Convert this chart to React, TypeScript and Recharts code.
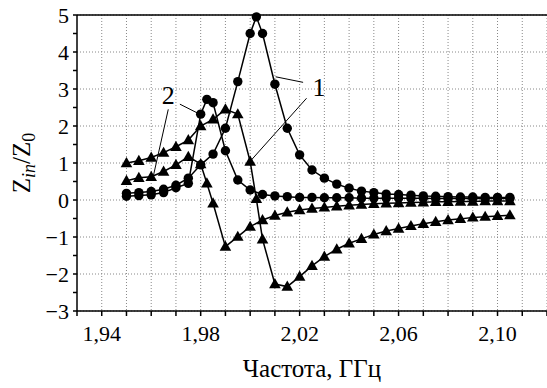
import { LineChart, Line, XAxis, YAxis, CartesianGrid, ReferenceLine, ReferenceDot } from "recharts";

// curve 1 (resonance near 2.0025 GHz)
const freq1 = [1.95, 1.955, 1.96, 1.965, 1.97, 1.975, 1.98, 1.985, 1.99, 1.995, 2.0, 2.0025, 2.005, 2.01, 2.015, 2.02, 2.025, 2.03, 2.035, 2.04, 2.045, 2.05, 2.055, 2.06, 2.065, 2.07, 2.075, 2.08, 2.085, 2.09, 2.095, 2.1, 2.105];
const re1 = [0.18, 0.2, 0.23, 0.29, 0.4, 0.59, 0.95, 1.24, 1.94, 3.2, 4.5, 4.95, 4.5, 3.13, 1.94, 1.22, 0.81, 0.59, 0.43, 0.32, 0.24, 0.2, 0.16, 0.15, 0.13, 0.11, 0.1, 0.09, 0.08, 0.08, 0.07, 0.07, 0.07];
const im1 = [1.0, 1.06, 1.15, 1.28, 1.44, 1.62, 2.0, 2.18, 2.45, 2.32, 1.04, 0.03, -1.06, -2.27, -2.34, -2.07, -1.78, -1.53, -1.33, -1.17, -1.05, -0.93, -0.84, -0.77, -0.7, -0.64, -0.59, -0.54, -0.51, -0.47, -0.45, -0.43, -0.41];

// curve 2 (resonance near 1.9825 GHz)
const freq2 = [1.95, 1.955, 1.96, 1.965, 1.97, 1.975, 1.98, 1.9825, 1.985, 1.99, 1.995, 2.0, 2.005, 2.01, 2.015, 2.02, 2.025, 2.03, 2.035, 2.04, 2.045, 2.05, 2.055, 2.06, 2.065, 2.07, 2.075, 2.08, 2.085, 2.09, 2.095, 2.1, 2.105];
const re2 = [0.1, 0.12, 0.14, 0.2, 0.33, 0.45, 2.32, 2.72, 2.63, 1.33, 0.54, 0.27, 0.15, 0.11, 0.09, 0.07, 0.07, 0.06, 0.06, 0.06, 0.05, 0.05, 0.05, 0.05, 0.05, 0.05, 0.04, 0.04, 0.04, 0.04, 0.04, 0.04, 0.04];
const im2 = [0.52, 0.6, 0.63, 0.77, 0.95, 1.17, 0.97, 0.45, -0.09, -1.26, -0.99, -0.72, -0.54, -0.42, -0.33, -0.27, -0.23, -0.2, -0.17, -0.14, -0.12, -0.1, -0.09, -0.08, -0.07, -0.06, -0.05, -0.05, -0.04, -0.04, -0.03, -0.03, -0.03];

const xTicks = [1.93, 1.94, 1.95, 1.96, 1.97, 1.98, 1.99, 2.0, 2.01, 2.02, 2.03, 2.04, 2.05, 2.06, 2.07, 2.08, 2.09, 2.1, 2.11, 2.12];
const xLabelTicks = ["1,94", "1,98", "2,02", "2,06", "2,10"];
const yTicks = [-3, -2.5, -2, -1.5, -1, -0.5, 0, 0.5, 1, 1.5, 2, 2.5, 3, 3.5, 4, 4.5, 5];
const yGrid = [-3, -2, -1, 0, 1, 2, 3, 4, 5];

const toRows = (fs: number[], vs: number[]) => fs.map((f, i) => ({ f, v: vs[i] }));

const FONT = "'Liberation Serif', 'Times New Roman', 'DejaVu Serif', serif";

const fmtX = (v: number) => {
  const s = v.toFixed(2).replace(".", ",");
  return xLabelTicks.includes(s) ? s : "";
};
const fmtY = (v: number) => (Number.isInteger(v) ? (v < 0 ? "\u2212" + Math.abs(v) : String(v)) : "");

const Circle = (props: any) => {
  const { cx, cy, index } = props;
  if (cx == null || cy == null) return null;
  return <circle key={"c" + index} cx={cx} cy={cy} r={4.7} fill="#000" />;
};

const Triangle = (props: any) => {
  const { cx, cy, index } = props;
  if (cx == null || cy == null) return null;
  return <path key={"t" + index} d={`M${cx},${cy - 6}L${cx + 5.8},${cy + 4.2}L${cx - 5.8},${cy + 4.2}Z`} fill="#000" />;
};

export default function App() {
  return (
    <div style={{ position: "absolute", left: 0, top: 0, width: 547, height: 388, background: "#fff", fontFamily: FONT }}>
      <LineChart width={547} height={388} margin={{ top: 15, right: 0, left: 0, bottom: 0 }} style={{ fontFamily: FONT }}>
        <CartesianGrid
          stroke="#888"
          strokeDasharray="1 2"
          horizontalValues={yGrid}
          verticalValues={xTicks.slice(1)}
        />
        <XAxis
          dataKey="f"
          type="number"
          domain={[1.93, 2.12]}
          ticks={xTicks}
          interval={0}
          tickFormatter={fmtX}
          height={77}
          tickSize={5}
          tickMargin={9}
          stroke="#000"
          strokeWidth={1.5}
          tick={{ fill: "#000", fontSize: 22, fontFamily: FONT }}
        />
        <YAxis
          type="number"
          domain={[-3, 5]}
          ticks={yTicks}
          interval={0}
          tickFormatter={fmtY}
          width={77}
          tickSize={4}
          tickMargin={4}
          stroke="#000"
          strokeWidth={1.5}
          tick={{ fill: "#000", fontSize: 22, fontFamily: FONT }}
        />
        <ReferenceLine y={5} stroke="#000" strokeWidth={1.5} />
        <Line data={toRows(freq1, re1)} dataKey="v" stroke="#000" strokeWidth={1.5} dot={Circle} isAnimationActive={false} />
        <Line data={toRows(freq1, im1)} dataKey="v" stroke="#000" strokeWidth={1.5} dot={Triangle} isAnimationActive={false} />
        <Line data={toRows(freq2, re2)} dataKey="v" stroke="#000" strokeWidth={1.5} dot={Circle} isAnimationActive={false} />
        <Line data={toRows(freq2, im2)} dataKey="v" stroke="#000" strokeWidth={1.5} dot={Triangle} isAnimationActive={false} />
        {/* leader lines for curve labels */}
        <ReferenceLine segment={[{ x: 1.9669, y: 2.45 }, { x: 1.9608, y: 0.63 }]} stroke="#000" strokeWidth={1} />
        <ReferenceLine segment={[{ x: 1.9716, y: 2.59 }, { x: 1.979, y: 2.34 }]} stroke="#000" strokeWidth={1} />
        <ReferenceLine segment={[{ x: 2.0214, y: 3.18 }, { x: 2.0103, y: 3.33 }]} stroke="#000" strokeWidth={1} />
        <ReferenceLine segment={[{ x: 2.0228, y: 2.75 }, { x: 2.0002, y: 1.06 }]} stroke="#000" strokeWidth={1} />
        <ReferenceDot x={1.9669} y={2.84} r={0} fill="none" stroke="none"
          label={{ value: "2", position: "center", fontSize: 26, fill: "#000", fontFamily: FONT }} />
        <ReferenceDot x={2.0278} y={3.05} r={0} fill="none" stroke="none"
          label={{ value: "1", position: "center", fontSize: 26, fill: "#000", fontFamily: FONT }} />
      </LineChart>
      <svg width={60} height={388} style={{ position: "absolute", left: 0, top: 0 }}>
        <text
          transform="rotate(-90, 30, 163)"
          x={30}
          y={163}
          textAnchor="middle"
          fontFamily={FONT}
          fontSize={25}
          fill="#000"
        >
          <tspan>Z</tspan>
          <tspan fontStyle="italic" fontSize={18} dy={5}>in</tspan>
          <tspan dy={-5}>/Z</tspan>
          <tspan fontSize={18} dy={5}>0</tspan>
        </text>
      </svg>
      <div
        style={{
          position: "absolute",
          left: 77,
          width: 470,
          top: 355,
          textAlign: "center",
          fontFamily: FONT,
          fontSize: 25,
          color: "#000",
        }}
      >
        Частота, ГГц
      </div>
    </div>
  );
}
